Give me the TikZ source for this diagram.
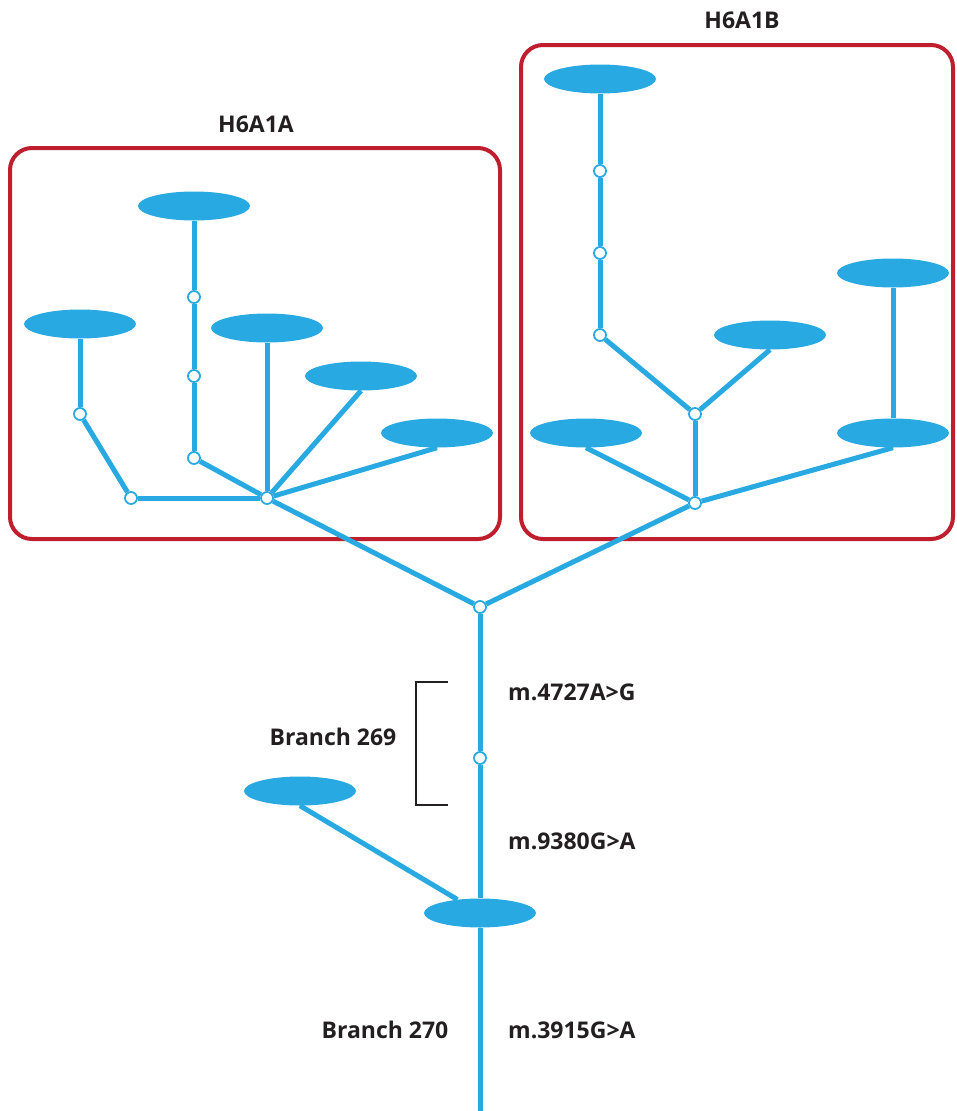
\documentclass[tikz,border=0pt]{standalone}
\usepackage{fontspec}
\setmainfont{Open Sans}
\usetikzlibrary{shapes.geometric}
\definecolor{hapblue}{HTML}{29A9E1}
\definecolor{hapred}{HTML}{BE1E2D}
\definecolor{ink}{HTML}{231F20}
\tikzset{
  hap/.style={ellipse, fill=hapblue, minimum width=112pt, minimum height=29pt, inner sep=0pt},
  mut/.style={circle, draw=hapblue, fill=white, line width=1.8pt, minimum size=12pt, inner sep=0pt},
  lbl/.style={font=\fontsize{23}{27}\selectfont\bfseries, text=ink, inner sep=0pt},
}

\begin{document}
\begin{tikzpicture}[x=1pt,y=-1pt]
  \useasboundingbox (0,0) rectangle (956,1111);
  % groups
  \draw[hapred, line width=4pt, rounded corners=22pt] (10,148) rectangle (500,539);
  \draw[hapred, line width=4pt, rounded corners=22pt] (521,45) rectangle (953,539);
  \node[lbl] (ta) at (256,124) {H6A1A};
  \node[lbl] (tb) at (742,20) {H6A1B};
  % H6A1A
  \node[hap] (a1) at (194,206) {};
  \node[hap] (a2) at (80,324) {};
  \node[hap] (a3) at (267,328) {};
  \node[hap] (a4) at (361,376) {};
  \node[hap] (a5) at (437,433) {};
  \node[mut] (ma1) at (194,297) {};
  \node[mut] (ma2) at (194,376) {};
  \node[mut] (ma3) at (194,458) {};
  \node[mut] (ma4) at (80,414) {};
  \node[mut] (ma5) at (131,498) {};
  \node[mut] (ha) at (267,498) {};
  % H6A1B
  \node[hap] (b1) at (600,79) {};
  \node[hap] (b2) at (770,335) {};
  \node[hap] (b3) at (586,433) {};
  \node[hap] (b4) at (893,273) {};
  \node[hap] (b5) at (893,433) {};
  \node[mut] (mb1) at (600,171) {};
  \node[mut] (mb2) at (600,253) {};
  \node[mut] (mb3) at (600,335) {};
  \node[mut] (mb4) at (695,414) {};
  \node[mut] (hb) at (695,503) {};
  % trunk
  \node[mut] (r) at (480,607) {};
  \node[mut] (mr) at (480,758) {};
  \node[hap] (c1) at (300,791) {};
  \node[hap] (c2) at (480,913) {};
  \coordinate (end) at (480,1111);
  \path[hapblue, line width=5pt]
    (a1) edge (ma1) (ma1) edge (ma2) (ma2) edge (ma3) (ma3) edge (ha)
    (a2) edge (ma4) (ma4) edge (ma5) (ma5) edge (ha)
    (a3) edge (ha) (a4.south) edge (ha) (a5.south) edge (ha)
    (ha) edge (r)
    (b1) edge (mb1) (mb1) edge (mb2) (mb2) edge (mb3) (mb3) edge (mb4)
    (b2.south) edge (mb4) (mb4) edge (hb)
    (b3.south) edge (hb) (b5.south) edge (hb) (b4) edge (b5)
    (hb) edge (r)
    (r) edge (mr) (mr) edge (c2) (c2) edge (end)
    (c1.south) edge (c2);
  % branch 269
  \coordinate (k1) at (448,682);
  \coordinate (k2) at (448,805);
  \draw[ink, line width=2.5pt] (k1) -| (416,805) -- (k2);
  \node[lbl] (l269) at (333,737) {Branch 269};
  \node[lbl, anchor=west] (m4727) at (508,692) {m.4727A>G};
  \node[lbl, anchor=west] (m9380) at (508,841) {m.9380G>A};
  \node[lbl] (l270) at (385,1030) {Branch 270};
  \node[lbl, anchor=west] (m3915) at (508,1030) {m.3915G>A};
\end{tikzpicture}
\end{document}
